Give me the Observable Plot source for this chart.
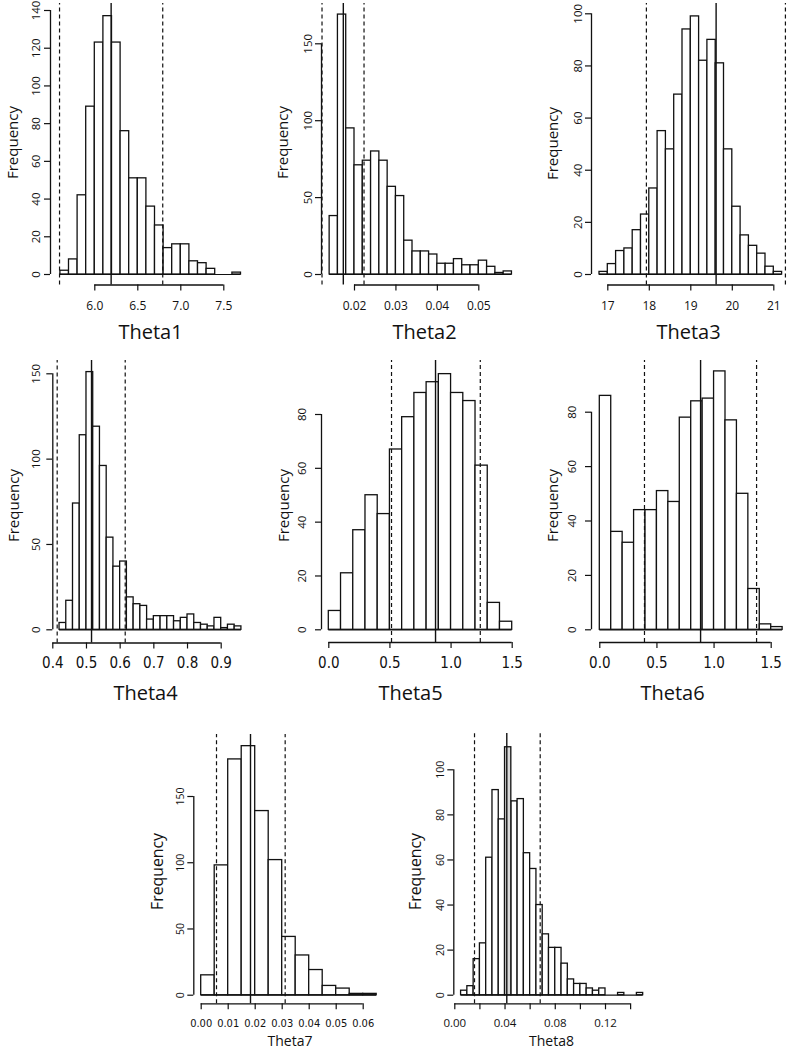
<!DOCTYPE html>
<html><head><meta charset="utf-8">
<script src="https://cdn.jsdelivr.net/npm/d3@7"></script>
<script src="https://cdn.jsdelivr.net/npm/@observablehq/plot@0.6"></script>
<style>
html,body{margin:0;padding:0;background:#fff;}
#root{position:relative;width:790px;height:1054px;overflow:hidden;background:#fff;}
#root > div{position:absolute;}
</style></head><body><div id="root"></div>
<script>
// ---------- data ----------
const names = ["Theta1","Theta2","Theta3","Theta4","Theta5","Theta6","Theta7","Theta8"];
const theta1Counts = [2, 8, 42, 89, 123, 137, 123, 76, 51, 51, 36, 26, 14, 16, 16, 7, 6, 3, 0, 0, 1];
const theta2Counts = [38, 169, 95, 71, 74, 80, 74, 57, 51, 22, 15, 15, 13, 7, 7, 10, 6, 6, 9, 5, 1, 2];
const theta3Counts = [1, 4, 9, 10, 17, 23, 33, 55, 48, 69, 94, 99, 82, 90, 81, 48, 26, 15, 11, 8, 3, 1];
const theta4Counts = [4, 17, 74, 114, 151, 119, 96, 54, 37, 40, 19, 15, 14, 6, 8, 8, 8, 5, 7, 9, 4, 3, 2, 7, 1, 3, 2];
const theta5Counts = [7, 21, 37, 50, 43, 67, 79, 88, 92, 95, 88, 85, 61, 10, 3];
const theta6Counts = [86, 36, 32, 44, 44, 51, 47, 78, 84, 85, 95, 77, 50, 15, 2, 1];
const theta7Counts = [15, 98, 178, 188, 139, 102, 44, 30, 19, 7, 5, 1, 1];
const theta8Counts = [2, 4, 16, 23, 61, 91, 78, 110, 86, 87, 63, 56, 40, 27, 21, 21, 14, 7, 5, 5, 3, 2, 3, 0, 0, 1, 0, 0, 1];
const countsList = [theta1Counts, theta2Counts, theta3Counts, theta4Counts, theta5Counts, theta6Counts, theta7Counts, theta8Counts];
const binStart = [5.6, 0.014, 16.8, 0.42, 0, 0, 0, 0.005];
const binWidth = [0.1, 0.002, 0.2, 0.02, 0.1, 0.1, 0.005, 0.005];
const highlightBin = [-1, -1, -1, -1, -1, -1, -1, 7];
// reference lines: [lower (dashed), centre (solid), upper (dashed)]
const refLines = [
  [5.59, 6.19, 6.79], [0.01216, 0.0173, 0.0223], [17.93, 19.61, 21.28], [0.413, 0.515, 0.615],
  [0.513, 0.873, 1.239], [0.391, 0.882, 1.372], [0.00567, 0.01826, 0.0311], [0.0157, 0.0414, 0.068]
];
const xTicks = [
  [6, 6.5, 7, 7.5], [0.02, 0.03, 0.04, 0.05], [17, 18, 19, 20, 21], [0.4, 0.5, 0.6, 0.7, 0.8, 0.9],
  [0, 0.5, 1, 1.5], [0, 0.5, 1, 1.5], [0, 0.01, 0.02, 0.03, 0.04, 0.05, 0.06],
  [0, 0.02, 0.04, 0.06, 0.08, 0.1, 0.12, 0.14]
];
const xLabelValues = [
  [6, 6.5, 7, 7.5], [0.02, 0.03, 0.04, 0.05], [17, 18, 19, 20, 21], [0.4, 0.5, 0.6, 0.7, 0.8, 0.9],
  [0, 0.5, 1, 1.5], [0, 0.5, 1, 1.5], [0, 0.01, 0.02, 0.03, 0.04, 0.05, 0.06], [0, 0.04, 0.08, 0.12]
];
const xLabelTexts = [
  ["6.0","6.5","7.0","7.5"], ["0.02","0.03","0.04","0.05"], ["17","18","19","20","21"],
  ["0.4","0.5","0.6","0.7","0.8","0.9"], ["0.0","0.5","1.0","1.5"], ["0.0","0.5","1.0","1.5"],
  ["0.00","0.01","0.02","0.03","0.04","0.05","0.06"], ["0.00","0.04","0.08","0.12"]
];
const yTicks = [
  [0, 20, 40, 60, 80, 100, 120, 140], [0, 50, 100, 150], [0, 20, 40, 60, 80, 100], [0, 50, 100, 150],
  [0, 20, 40, 60, 80], [0, 20, 40, 60, 80], [0, 50, 100, 150], [0, 20, 40, 60, 80, 100]
];

// ---------- layout (pixel positions, sizes, styles) ----------
const OPEN = "'Open Sans', 'Noto Sans', sans-serif";
const NARROW = "'Liberation Sans Narrow', 'DejaVu Sans Condensed', 'Open Sans', sans-serif";
const layout = [
  {box:[0,0,263,345], yAxisX:50, xAxisY:284.5, xCal:[6,94.3,7.5,223.3], yCal:[0,274,140,10], lineTop:3,
   title:[150,338,20], freq:[13,142,15], ytick:[36,11.5], xtick:[309.5,12,OPEN]},
  {box:[263,0,264,345], yAxisX:321, xAxisY:284.5, xCal:[0.02,354,0.05,478.3], yCal:[0,274,150,43.3], lineTop:3,
   title:[424,338,20], freq:[283,142,15], ytick:[308,11.5], xtick:[309.5,12,OPEN]},
  {box:[527,0,263,345], yAxisX:591, xAxisY:284.5, xCal:[17,607.3,21,773.3], yCal:[0,274,100,13.3], lineTop:3,
   title:[688,338,20], freq:[553,143,15], ytick:[577.5,11.5], xtick:[309.5,12,OPEN]},
  {box:[0,345,263,360], yAxisX:52.3, xAxisY:642.5, xCal:[0.4,52.3,0.9,220.7], yCal:[0,629.3,150,373.3], lineTop:360,
   title:[145,699,20], freq:[13.5,505,15], ytick:[36,11.5], xtick:[667,15,NARROW]},
  {box:[263,345,264,360], yAxisX:321, xAxisY:642, xCal:[0,328.3,1.5,511.7], yCal:[0,629.3,80,414], lineTop:360,
   title:[410,699,20], freq:[284,505,15], ytick:[302,11.5], xtick:[667,15,NARROW]},
  {box:[527,345,263,360], yAxisX:591, xAxisY:642, xCal:[0,599.3,1.5,770.7], yCal:[0,629.3,80,411.7], lineTop:360,
   title:[672,699,20], freq:[553,505,15], ytick:[572,11.5], xtick:[667,15,NARROW]},
  {box:[130,705,260,349], yAxisX:193.3, xAxisY:1003.3, xCal:[0,200.7,0.06,362.7], yCal:[0,994.7,150,796], lineTop:734,
   title:[289.5,1045,14], freq:[157.5,871,15.8], ytick:[180,10.5], xtick:[1026,11,NARROW]},
  {box:[390,705,260,349], yAxisX:453.3, xAxisY:1003.3, xCal:[0,454.3,0.12,605], yCal:[0,994.7,100,769.3], lineTop:733,
   title:[551,1045,14], freq:[415,871,15.8], ytick:[440,10.5], xtick:[1026,11.5,OPEN]}
];

function panel(i) {
  const L = layout[i];
  const [ox, oy, W, H] = L.box;
  const [xv1, xp1, xv2, xp2] = L.xCal;
  const [yv1, yp1, yv2, yp2] = L.yCal;
  const xinv = px => xv1 + (px - xp1) * (xv2 - xv1) / (xp2 - xp1);
  const yinv = py => yv1 + (py - yp1) * (yv2 - yv1) / (yp2 - yp1);
  const marginLeft = L.yAxisX - ox;
  const marginBottom = H - (L.xAxisY - oy);
  const counts = countsList[i];
  const bins = counts.map((c, k) => ({x1: binStart[i] + k * binWidth[i], x2: binStart[i] + (k + 1) * binWidth[i], c, hl: k === highlightBin[i]}));
  const yBottom = yinv(L.xAxisY);
  const yTop = yinv(L.lineTop);
  const xAtAxis = xinv(L.yAxisX);
  const yt = yTicks[i], xt = xTicks[i];
  const ink = "#111";
  const [tx, ty, tsize] = L.title;
  const [fx, fy, fsize] = L.freq;
  const [ytx, ytsize] = L.ytick;
  const [xtBase, xtSize, xtFont] = L.xtick;
  const lv = xLabelValues[i], lt = xLabelTexts[i];

  const chart = Plot.plot({
    width: W, height: H,
    marginLeft, marginBottom, marginTop: 0, marginRight: 0,
    x: {type: "linear", domain: [xv1, xv2], range: [xp1 - ox, xp2 - ox]},
    y: {type: "linear", domain: [yv1, yv2], range: [yp1 - oy, yp2 - oy]},
    style: {background: "transparent", overflow: "visible", fontFamily: OPEN, color: ink},
    marks: [
      Plot.ruleY([0], {x1: bins[0].x1, x2: bins[bins.length - 1].x2, stroke: ink, strokeWidth: 1.2}),
      Plot.rectY(bins.filter(d => !d.hl && d.c > 0), {x1: "x1", x2: "x2", y1: 0, y2: "c", fill: "white", stroke: ink, strokeWidth: 1.3}),
      Plot.rectY(bins.filter(d => d.hl), {x1: "x1", x2: "x2", y1: 0, y2: "c", fill: "#d9d9d9", stroke: ink, strokeWidth: 1.3}),
      Plot.ruleX([refLines[i][0], refLines[i][2]], {y1: yBottom, y2: yTop, stroke: ink, strokeWidth: 1.2, strokeDasharray: "4,3"}),
      Plot.ruleX([refLines[i][1]], {y1: yBottom, y2: yTop, stroke: ink, strokeWidth: 1.4}),
      // axis lines (R style: first to last tick)
      Plot.ruleX([xAtAxis], {y1: yt[0], y2: yt[yt.length - 1], stroke: ink, strokeWidth: 1.3}),
      Plot.ruleY([yBottom], {x1: xt[0], x2: xt[xt.length - 1], stroke: ink, strokeWidth: 1.3}),
      Plot.axisY({ticks: yt, tickSize: 6, tickFormat: () => "", label: null, stroke: ink, strokeWidth: 1.2}),
      Plot.axisX({ticks: xt, tickSize: 6, tickFormat: () => "", label: null, stroke: ink, strokeWidth: 1.2}),
      // tick labels
      Plot.text(yt, {y: d => d, text: d => String(d), frameAnchor: "left", dx: ytx - L.yAxisX, rotate: -90,
        textAnchor: "middle", lineAnchor: "middle", fontSize: ytsize, fill: ink}),
      Plot.text(lv.map((v, k) => k), {x: k => lv[k], text: k => lt[k], frameAnchor: "bottom", dy: xtBase - L.xAxisY,
        lineAnchor: "bottom", textAnchor: "middle", fontSize: xtSize, fontFamily: xtFont, fill: ink}),
      // axis titles
      Plot.text([names[i]], {frameAnchor: "top-left", dx: tx - ox - marginLeft, dy: ty - oy, lineAnchor: "bottom",
        textAnchor: "middle", fontSize: tsize, fill: ink}),
      Plot.text(["Frequency"], {frameAnchor: "top-left", dx: fx - ox - marginLeft, dy: fy - oy, rotate: -90,
        lineAnchor: "middle", textAnchor: "middle", fontSize: fsize, fill: ink})
    ]
  });
  const holder = document.createElement("div");
  holder.style.left = ox + "px";
  holder.style.top = oy + "px";
  holder.style.width = W + "px";
  holder.style.height = H + "px";
  holder.appendChild(chart);
  document.getElementById("root").appendChild(holder);
}
for (let i = 0; i < 8; i++) panel(i);
</script>
</body></html>
